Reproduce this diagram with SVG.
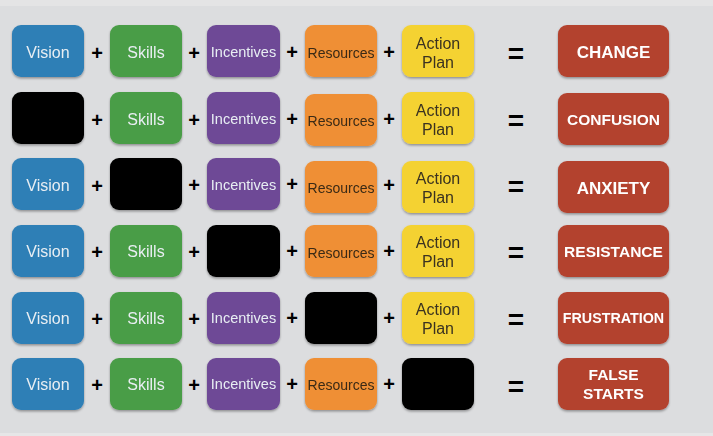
<svg xmlns="http://www.w3.org/2000/svg" width="713" height="436" viewBox="0 0 713 436">
<defs>
<filter id="sh" x="-10%" y="-10%" width="120%" height="130%">
<feDropShadow dx="0" dy="1.5" stdDeviation="1.2" flood-color="#000" flood-opacity="0.35"/>
</filter>
<style>
.b{filter:url(#sh)}
.b rect{rx:9px;ry:9px}
.vis{fill:#2e7fb6}.ski{fill:#4a9d46}.inc{fill:#6e4a96}.res{fill:#ef8f34}.act{fill:#f4d232}.out{fill:#b3422f}.blk{fill:#000}
text{font-family:"Liberation Sans",Arial,Helvetica,sans-serif;text-anchor:middle}
.lt{fill:#e8eef3;font-size:16px}
.lts{fill:#e8eef3;font-size:14.5px}
.dk{fill:#3a2a16;font-size:14px}
.dka{fill:#3a3320;font-size:16px}
.o{fill:#fff;font-weight:bold;font-size:16px}
.op{fill:#000;font-weight:bold;font-size:20px}
.eq{fill:#000;font-weight:bold;font-size:28px}
</style>
</defs>
<rect x="0" y="0" width="713" height="436" fill="#dcdddf"/>
<rect x="0" y="0" width="713" height="6" fill="#e4e4e5"/>
<rect x="0" y="433" width="713" height="3" fill="#e6e6e7"/>

<!-- Row 1 -->
<g id="r1-vision" class="b"><rect class="vis" x="12" y="25" width="72" height="52"/><text class="lt" x="48" y="57.5">Vision</text></g>
<g id="r1-skills" class="b"><rect class="ski" x="110" y="25" width="72" height="52"/><text class="lt" x="146" y="57.5">Skills</text></g>
<g id="r1-incentives" class="b"><rect class="inc" x="207" y="25" width="73" height="52"/><text class="lts" x="243.5" y="57">Incentives</text></g>
<g id="r1-resources" class="b"><rect class="res" x="305" y="25" width="72" height="52"/><text class="dk" x="341" y="57.5">Resources</text></g>
<g id="r1-action" class="b"><rect class="act" x="402" y="25" width="72" height="52"/><text class="dka" x="438" y="48.7">Action</text><text class="dka" x="438" y="67.7">Plan</text></g>
<g id="r1-result" class="b"><rect class="out" x="558" y="25" width="111" height="52"/><text class="o" x="613.5" y="57.8" style="font-size:17px">CHANGE</text></g>

<!-- Row 2 -->
<g id="r2-vision" class="b"><rect class="blk" x="12" y="92" width="72" height="52"/></g>
<g id="r2-skills" class="b"><rect class="ski" x="110" y="92" width="72" height="52"/><text class="lt" x="146" y="124.5">Skills</text></g>
<g id="r2-incentives" class="b"><rect class="inc" x="207" y="92" width="73" height="52"/><text class="lts" x="243.5" y="124">Incentives</text></g>
<g id="r2-resources" class="b"><rect class="res" x="305" y="94" width="72" height="52"/><text class="dk" x="341" y="125.5">Resources</text></g>
<g id="r2-action" class="b"><rect class="act" x="402" y="92" width="72" height="52"/><text class="dka" x="438" y="115.7">Action</text><text class="dka" x="438" y="134.7">Plan</text></g>
<g id="r2-result" class="b"><rect class="out" x="558" y="93" width="111" height="52"/><text class="o" x="613.5" y="124.8" style="font-size:15.5px">CONFUSION</text></g>

<!-- Row 3 -->
<g id="r3-vision" class="b"><rect class="vis" x="12" y="158" width="72" height="52"/><text class="lt" x="48" y="190.5">Vision</text></g>
<g id="r3-skills" class="b"><rect class="blk" x="110" y="158" width="72" height="52"/></g>
<g id="r3-incentives" class="b"><rect class="inc" x="207" y="158" width="73" height="52"/><text class="lts" x="243.5" y="190">Incentives</text></g>
<g id="r3-resources" class="b"><rect class="res" x="305" y="161" width="72" height="52"/><text class="dk" x="341" y="193">Resources</text></g>
<g id="r3-action" class="b"><rect class="act" x="402" y="161" width="72" height="52"/><text class="dka" x="438" y="184.2">Action</text><text class="dka" x="438" y="203.2">Plan</text></g>
<g id="r3-result" class="b"><rect class="out" x="558" y="161" width="111" height="52"/><text class="o" x="613.5" y="194" style="font-size:17px">ANXIETY</text></g>

<!-- Row 4 -->
<g id="r4-vision" class="b"><rect class="vis" x="12" y="225" width="72" height="52"/><text class="lt" x="48" y="257">Vision</text></g>
<g id="r4-skills" class="b"><rect class="ski" x="110" y="225" width="72" height="52"/><text class="lt" x="146" y="257">Skills</text></g>
<g id="r4-incentives" class="b"><rect class="blk" x="207" y="225" width="73" height="52"/></g>
<g id="r4-resources" class="b"><rect class="res" x="305" y="225" width="72" height="52"/><text class="dk" x="341" y="257.5">Resources</text></g>
<g id="r4-action" class="b"><rect class="act" x="402" y="225" width="72" height="52"/><text class="dka" x="438" y="248">Action</text><text class="dka" x="438" y="267">Plan</text></g>
<g id="r4-result" class="b"><rect class="out" x="558" y="225" width="111" height="52"/><text class="o" x="613.5" y="256.5" style="font-size:15.5px">RESISTANCE</text></g>

<!-- Row 5 -->
<g id="r5-vision" class="b"><rect class="vis" x="12" y="292" width="72" height="52"/><text class="lt" x="48" y="324">Vision</text></g>
<g id="r5-skills" class="b"><rect class="ski" x="110" y="292" width="72" height="52"/><text class="lt" x="146" y="324">Skills</text></g>
<g id="r5-incentives" class="b"><rect class="inc" x="207" y="292" width="73" height="52"/><text class="lts" x="243.5" y="323">Incentives</text></g>
<g id="r5-resources" class="b"><rect class="blk" x="305" y="292" width="72" height="52"/></g>
<g id="r5-action" class="b"><rect class="act" x="402" y="292" width="72" height="52"/><text class="dka" x="438" y="314.7">Action</text><text class="dka" x="438" y="333.7">Plan</text></g>
<g id="r5-result" class="b"><rect class="out" x="558" y="292" width="111" height="52"/><text class="o" x="613.5" y="322.5" style="font-size:14.3px">FRUSTRATION</text></g>

<!-- Row 6 -->
<g id="r6-vision" class="b"><rect class="vis" x="12" y="358" width="72" height="52"/><text class="lt" x="48" y="390">Vision</text></g>
<g id="r6-skills" class="b"><rect class="ski" x="110" y="358" width="72" height="52"/><text class="lt" x="146" y="390">Skills</text></g>
<g id="r6-incentives" class="b"><rect class="inc" x="207" y="358" width="73" height="52"/><text class="lts" x="243.5" y="389">Incentives</text></g>
<g id="r6-resources" class="b"><rect class="res" x="305" y="358" width="72" height="52"/><text class="dk" x="341" y="389.5">Resources</text></g>
<g id="r6-action" class="b"><rect class="blk" x="402" y="358" width="72" height="52"/></g>
<g id="r6-result" class="b"><rect class="out" x="558" y="358" width="111" height="52"/><text class="o" x="613.5" y="379.5" style="font-size:15.5px">FALSE</text><text class="o" x="613.5" y="398.5" style="font-size:15.5px">STARTS</text></g>

<!-- operators -->
<g id="operators">
<text class="op" x="97" y="60">+</text><text class="op" x="194" y="60">+</text><text class="op" x="292" y="59">+</text><text class="op" x="389" y="59">+</text><text class="eq" x="516" y="63">=</text>
<text class="op" x="97" y="127">+</text><text class="op" x="194" y="127">+</text><text class="op" x="292" y="126">+</text><text class="op" x="389" y="126">+</text><text class="eq" x="516" y="130">=</text>
<text class="op" x="97" y="193">+</text><text class="op" x="194" y="192">+</text><text class="op" x="292" y="191">+</text><text class="op" x="389" y="192">+</text><text class="eq" x="516" y="196">=</text>
<text class="op" x="97" y="259">+</text><text class="op" x="194" y="259">+</text><text class="op" x="292" y="258">+</text><text class="op" x="389" y="258">+</text><text class="eq" x="516" y="262">=</text>
<text class="op" x="97" y="326">+</text><text class="op" x="194" y="326">+</text><text class="op" x="292" y="325">+</text><text class="op" x="389" y="325">+</text><text class="eq" x="516" y="329">=</text>
<text class="op" x="97" y="392">+</text><text class="op" x="194" y="392">+</text><text class="op" x="292" y="391">+</text><text class="op" x="389" y="391">+</text><text class="eq" x="516" y="396">=</text>
</g>
</svg>
